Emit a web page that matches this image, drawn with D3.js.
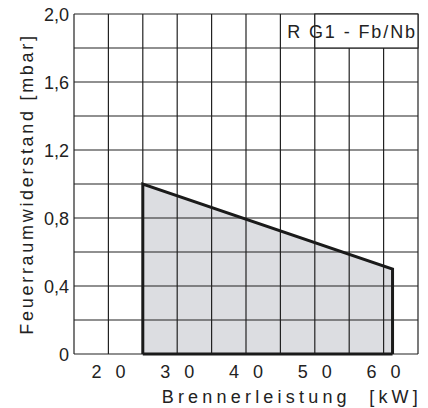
<!DOCTYPE html>
<html>
<head>
<meta charset="utf-8">
<script src="https://cdn.jsdelivr.net/npm/d3@7"></script>
<style>
  body { margin: 0; background: #fff; }
  text { font-family: "Liberation Sans", Arial, sans-serif; fill: #222; white-space: pre; }
</style>
</head>
<body>
<div id="chart"></div>
<script>
// Data
var xGrid = [15, 20, 25, 30, 35, 40, 45, 50, 55, 60, 65];
var yGrid = [0, 0.2, 0.4, 0.6, 0.8, 1.0, 1.2, 1.4, 1.6, 1.8, 2.0];
var xTicks = [20, 30, 40, 50, 60];
var yTicks = [0, 0.4, 0.8, 1.2, 1.6, 2.0];
var yTickLabels = ["0", "0,4", "0,8", "1,2", "1,6", "2,0"];
var fieldKw = [25, 25, 61.3, 61.3];
var fieldMbar = [0, 1.0, 0.5, 0];
var legendLabel = "R G1 - Fb/Nb";

var margin = { top: 14, right: 10, bottom: 54, left: 74 },
  width = 428 - margin.left - margin.right,
  height = 408 - margin.top - margin.bottom;

var svg = d3.select("#chart")
  .append("svg")
  .attr("width", 428)
  .attr("height", 408)
  .append("g")
  .attr("transform", "translate(" + margin.left + "," + margin.top + ")");

var x = d3.scaleLinear().domain([15, 65]).range([0, width]);
var y = d3.scaleLinear().domain([0, 2.0]).range([height, 0]);

var field = fieldKw.map(function (d, i) { return [d, fieldMbar[i]]; });
var line = d3.line()
  .x(function (d) { return x(d[0]); })
  .y(function (d) { return y(d[1]); });

// Filled working field (under the grid)
svg.append("path")
  .attr("d", line(field) + "Z")
  .attr("fill", "#dcdde1")
  .attr("stroke", "none");

// Grid
svg.selectAll(".vgrid")
  .data(xGrid)
  .enter().append("line")
  .attr("x1", function (d) { return x(d); })
  .attr("x2", function (d) { return x(d); })
  .attr("y1", 0)
  .attr("y2", height)
  .attr("stroke", "#222")
  .attr("stroke-width", 1.2);

svg.selectAll(".hgrid")
  .data(yGrid)
  .enter().append("line")
  .attr("x1", 0)
  .attr("x2", width)
  .attr("y1", function (d) { return y(d); })
  .attr("y2", function (d) { return y(d); })
  .attr("stroke", "#222")
  .attr("stroke-width", 1.2);

// Legend box in top right corner
svg.append("rect")
  .attr("x", x(50))
  .attr("y", y(2.0))
  .attr("width", x(65) - x(50))
  .attr("height", y(1.8) - y(2.0))
  .attr("fill", "#fff")
  .attr("stroke", "#222")
  .attr("stroke-width", 1.2);

svg.append("text")
  .attr("x", x(65) - 1)
  .attr("y", y(1.9) + 6.5)
  .attr("text-anchor", "end")
  .style("font-size", "18px")
  .style("letter-spacing", "1.9px")
  .text(legendLabel);

// Outline of the field
svg.append("path")
  .attr("d", line(field))
  .attr("fill", "none")
  .attr("stroke", "#1a1a1a")
  .attr("stroke-width", 3)
  .attr("stroke-linejoin", "miter");
svg.append("line")
  .attr("x1", x(fieldKw[0]))
  .attr("x2", x(fieldKw[3]))
  .attr("y1", y(0))
  .attr("y2", y(0))
  .attr("stroke", "#1a1a1a")
  .attr("stroke-width", 3);

// Tick labels
svg.selectAll(".xtick")
  .data(xTicks)
  .enter().append("text")
  .attr("x", function (d) { return x(d) + 7; })
  .attr("y", height + 24)
  .attr("text-anchor", "middle")
  .style("font-size", "18px")
  .style("letter-spacing", "14px")
  .text(function (d) { return d; });

svg.selectAll(".ytick")
  .data(yTicks)
  .enter().append("text")
  .attr("x", -5)
  .attr("y", function (d) { return y(d) + 6.5; })
  .attr("text-anchor", "end")
  .style("font-size", "18px")
  .text(function (d, i) { return yTickLabels[i]; });

// Axis titles
svg.append("text")
  .attr("x", width + 4)
  .attr("y", height + 49)
  .attr("text-anchor", "end")
  .style("font-size", "18px")
  .style("letter-spacing", "4.2px")
  .text("Brennerleistung  [kW]");

svg.append("text")
  .attr("transform", "rotate(-90)")
  .attr("x", -height / 2)
  .attr("y", -41)
  .attr("text-anchor", "middle")
  .style("font-size", "18px")
  .style("letter-spacing", "2.7px")
  .text("Feuerraumwiderstand [mbar]");
</script>
</body>
</html>
